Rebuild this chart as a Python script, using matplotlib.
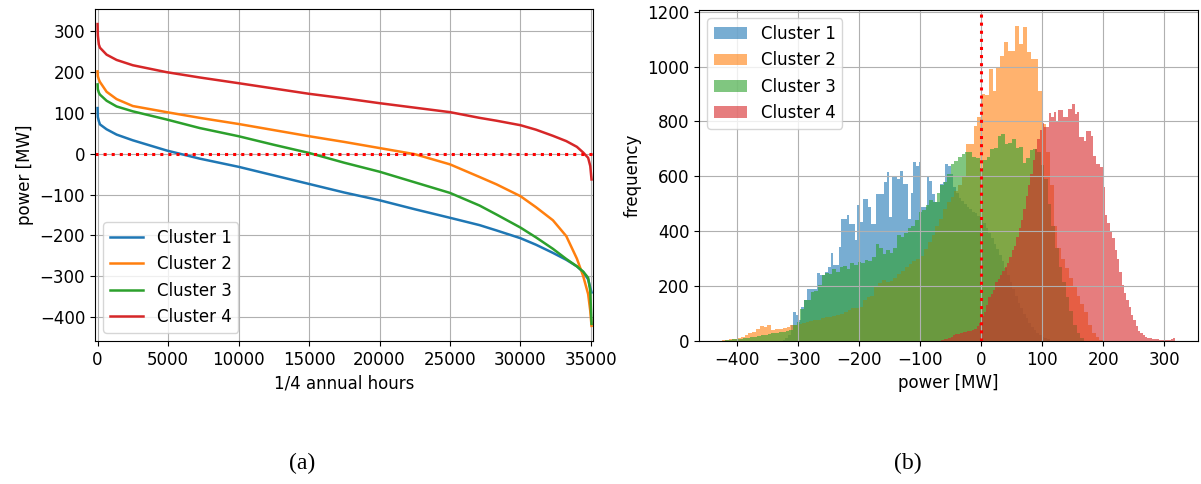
import numpy as np
import matplotlib.pyplot as plt

plt.rcParams['font.size'] = 12

labels = ['Cluster 1', 'Cluster 2', 'Cluster 3', 'Cluster 4']

# duration curves: sorted power [MW] at selected 1/4-hour indices
hours = [0, 20, 90, 170, 640, 1350, 2500, 4900, 7250, 10000, 12500, 15000,
         17500, 20000, 22500, 25000, 27100, 28300, 30000, 31100, 32300,
         33250, 34000, 34450, 34800, 34950, 35040]
dur1 = [112, 90, 80, 72, 60, 47, 33, 8, -12, -32, -53, -74, -95, -114, -136,
        -157, -175, -188, -207, -223, -243, -260, -276, -290, -308, -328, -340]
dur2 = [202, 190, 182, 176, 152, 134, 117, 102, 88, 73, 58, 43, 29, 14, -1,
        -26, -57, -75, -104, -131, -163, -202, -257, -300, -344, -385, -422]
dur3 = [170, 158, 150, 145, 130, 116, 104, 84, 63, 43, 22, 2, -22, -44, -70,
        -96, -127, -149, -181, -205, -233, -258, -276, -289, -304, -336, -417]
dur4 = [318, 290, 268, 260, 243, 230, 217, 200, 187, 173, 160, 147, 136, 124,
        113, 102, 88, 81, 70, 59, 44, 31, 17, 3, -10, -30, -63]

# histogram counts, 100 bins between each cluster's min and max power
range1 = (-325, 112)
range2 = (-425, 200)
range3 = (-420, 168)
range4 = (-65, 318)

counts1 = [5, 10, 20, 60, 107, 95, 76, 125, 150, 190,
           191, 188, 188, 246, 240, 240, 252, 270, 319, 276,
           276, 343, 446, 446, 458, 428, 428, 367, 495, 434,
           519, 519, 488, 428, 427, 536, 537, 536, 578, 615,
           451, 596, 596, 590, 620, 572, 572, 445, 540, 651,
           639, 651, 487, 487, 596, 584, 536, 505, 505, 572,
           578, 645, 639, 608, 560, 540, 520, 510, 500, 490,
           480, 470, 465, 455, 445, 430, 410, 395, 375, 355,
           335, 315, 290, 265, 240, 215, 190, 165, 140, 120,
           100, 82, 66, 52, 40, 30, 22, 15, 10, 6]
counts2 = [3, 4, 6, 7, 10, 14, 22, 28, 32, 45,
           55, 50, 58, 40, 42, 45, 48, 52, 58, 60,
           62, 66, 70, 72, 76, 78, 82, 86, 88, 92,
           95, 100, 107, 112, 119, 119, 125, 150, 161, 165,
           195, 210, 222, 215, 220, 228, 245, 255, 270, 280,
           290, 300, 310, 335, 360, 385, 420, 445, 480, 505,
           525, 545, 570, 600, 719, 719, 785, 815, 900, 895,
           990, 912, 997, 1040, 1088, 1058, 1058, 1149, 1082, 1143,
           1052, 1028, 1028, 912, 790, 690, 570, 420, 340, 300,
           265, 230, 200, 165, 135, 105, 60, 30, 14, 5]
counts3 = [3, 4, 6, 8, 9, 10, 11, 13, 15, 17,
           20, 23, 26, 28, 30, 32, 34, 36, 40, 58,
           68, 115, 148, 150, 178, 182, 205, 240, 246, 244,
           262, 250, 268, 272, 262, 285, 276, 288, 283, 295,
           290, 305, 355, 340, 318, 330, 322, 340, 385, 378,
           392, 410, 418, 440, 470, 478, 495, 515, 505, 540,
           570, 580, 610, 645, 655, 670, 680, 690, 687, 672,
           668, 630, 660, 672, 700, 702, 748, 755, 718, 720,
           737, 705, 708, 650, 668, 695, 698, 690, 640, 590,
           500, 420, 340, 270, 215, 160, 110, 60, 28, 10]
counts4 = [4, 6, 8, 12, 16, 22, 25, 27, 30, 32,
           34, 36, 38, 40, 45, 55, 65, 90, 105, 130,
           160, 170, 185, 215, 225, 240, 255, 270, 285, 305,
           330, 345, 380, 410, 440, 480, 530, 570, 610, 660,
           700, 735, 770, 796, 778, 780, 830, 815, 833, 800,
           840, 840, 815, 815, 845, 845, 863, 827, 833, 742,
           742, 730, 766, 766, 748, 675, 645, 645, 633, 560,
           460, 430, 400, 375, 330, 300, 250, 205, 175, 150,
           125, 95, 75, 55, 38, 28, 20, 15, 12, 10,
           8, 7, 6, 5, 5, 4, 3, 3, 6, 10]

fig = plt.figure(figsize=(12.01, 4.84), dpi=100)
ax1 = fig.add_axes([0.079, 0.2955, 0.4147, 0.686])
ax2 = fig.add_axes([0.582, 0.2955, 0.4155, 0.684])

# (a) duration curves
for dur, lab in zip([dur1, dur2, dur3, dur4], labels):
    ax1.plot(hours, dur, lw=1.8, label=lab)
ax1.axhline(0, color='red', ls=':', lw=2.2)
ax1.set_xlim(-190, 35140)
ax1.set_xlabel('1/4 annual hours')
ax1.set_ylabel('power [MW]')
ax1.grid(True)
ax1.legend(loc='lower left')

# (b) histograms, grid stays on top of the bars
for rng, cnt, lab in zip([range1, range2, range3, range4],
                         [counts1, counts2, counts3, counts4], labels):
    edges = np.linspace(rng[0], rng[1], len(cnt) + 1)
    centers = 0.5 * (edges[:-1] + edges[1:])
    ax2.hist(centers, bins=edges, weights=cnt, alpha=0.6, label=lab)
ax2.axvline(0, color='red', ls=':', lw=2.2)
ax2.set_xlabel('power [MW]')
ax2.set_ylabel('frequency')
ax2.grid(True)
ax2.legend(loc='upper left')

fig.text(0.2515, 0.043, '(a)', family='Liberation Serif', fontsize=17,
         ha='center', va='center')
fig.text(0.756, 0.043, '(b)', family='Liberation Serif', fontsize=17,
         ha='center', va='center')

fig.savefig('out.png', dpi=100)
